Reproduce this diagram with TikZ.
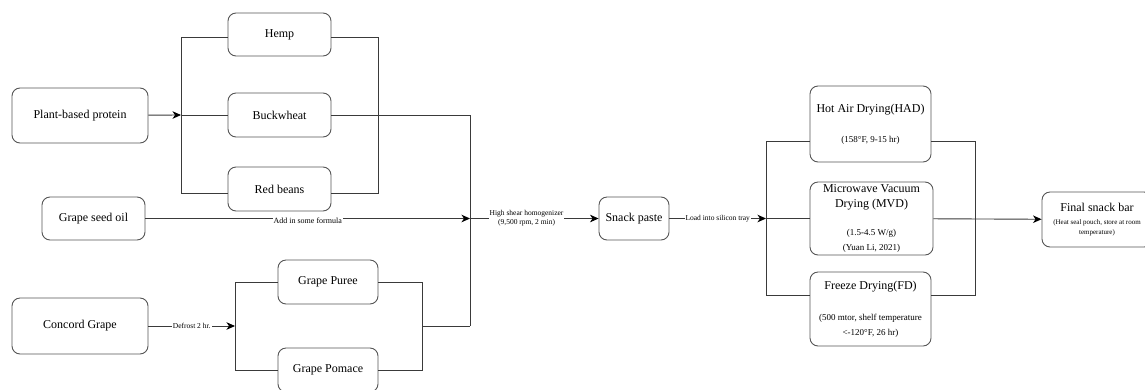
\documentclass[tikz,border=0pt]{standalone}
\usepackage{fontspec}
\setmainfont{Liberation Serif}
\usetikzlibrary{arrows.meta}
\definecolor{boxgray}{HTML}{555555}
\definecolor{linegray}{HTML}{3A3A3A}
\newcommand\subnine{\fontsize{9}{14}\selectfont}
\newcommand\subseven{\fontsize{7}{10}\selectfont}
\begin{document}
\begin{tikzpicture}[x=1pt,y=-1pt,
  box/.style={draw=boxgray, line width=0.9pt, rounded corners=8pt, align=center,
    inner sep=0pt, font=\fontsize{12}{15}\selectfont},
  conn/.style={draw=linegray, line width=0.9pt},
  arr/.style={conn, -{Stealth[length=8.5pt,width=7.5pt,inset=2.5pt,black]}},
  elabel/.style={fill=white, inner sep=1pt, align=center, font=\fontsize{7.5}{9}\selectfont}]
\useasboundingbox (0,0) rectangle (1145,389);

% nodes
\node[box, minimum width=136, minimum height=55] (pbp) at (80,115.5) {Plant-based protein};
\node[box, minimum width=103, minimum height=43] (hemp) at (279.5,34.5) {Hemp};
\node[box, minimum width=103, minimum height=44] (buck) at (279.5,115) {Buckwheat};
\node[box, minimum width=103, minimum height=44] (red) at (279.5,189) {Red beans};
\node[box, minimum width=103, minimum height=43] (gso) at (93.5,218.5) {Grape seed oil};
\node[box, minimum width=136, minimum height=56] (cg) at (80,326) {Concord Grape};
\node[box, minimum width=100, minimum height=44] (puree) at (328,282) {Grape Puree};
\node[box, minimum width=100, minimum height=44] (pomace) at (328,370) {Grape Pomace};
\node[box, minimum width=70, minimum height=43] (snack) at (634,218.5) {Snack paste};
\node[box, minimum width=121, minimum height=76] (had) at (870.5,124)
  {Hot Air Drying(HAD)\\[15pt]\subnine (158°F, 9-15 hr)};
\node[box, minimum width=123, minimum height=73] (mvd) at (871.5,218.5)
  {Microwave Vacuum\\Drying (MVD)\\[13pt]\subnine (1.5-4.5 W/g)\\\subnine (Yuan Li, 2021)};
\node[box, minimum width=121, minimum height=74] (fd) at (870.5,309)
  {Freeze Drying(FD)\\[16pt]\subnine (500 mtor, shelf temperature\\\subnine <-120°F, 26 hr)};
\node[box, minimum width=110, minimum height=55] (fsb) at (1097,219.5)
  {Final snack bar\\[-2pt]\subseven (Heat seal pouch, store at room\\[-5pt]\subseven temperature)};

% junctions
\coordinate (jpb) at (181,115);
\coordinate (jhL) at (181,37);
\coordinate (jrL) at (181,193);
\coordinate (jhR) at (378,37);
\coordinate (jrR) at (378,193);
\coordinate (jb) at (470,115);
\coordinate (jm) at (470,218.5);
\coordinate (jg) at (470,326);
\coordinate (jcg) at (235,326);
\coordinate (jpL) at (235,282);
\coordinate (jpoL) at (235,370);
\coordinate (jpR) at (422,282);
\coordinate (jpoR) at (422,370);
\coordinate (jgR) at (422,326);
\coordinate (jt) at (766,218.5);
\coordinate (jtT) at (766,141);
\coordinate (jtB) at (766,295);
\coordinate (jr) at (975,218.5);
\coordinate (jrT) at (975,141);
\coordinate (jrB) at (975,295);

% protein group
\draw[arr] (pbp) -- (jpb);
\draw[conn] (jhL) -- (jrL);
\draw[conn] (jhL) -- (hemp.west |- jhL);
\draw[conn] (jpb) -- (buck);
\draw[conn] (jrL) -- (red.west |- jrL);
\draw[conn] (hemp.east |- jhR) -- (jhR) -- (jrR) -- (red.east |- jrR);
\draw[conn] (buck) -- (jb) -- (jg);

% oil
\draw[arr] (gso) -- node[elabel, yshift=-2pt, font=\fontsize{8}{9.5}\selectfont]{Add in some formula} (jm);

% grape group
\draw[arr] (cg) -- node[elabel]{Defrost 2 hr.} (jcg);
\draw[conn] (jpL) -- (jpoL);
\draw[conn] (jpL) -- (puree.west |- jpL);
\draw[conn] (jpoL) -- (pomace.west |- jpoL);
\draw[conn] (puree.east |- jpR) -- (jpR) -- (jpoR) -- (pomace.east |- jpoR);
\draw[conn] (jgR) -- (jg);

% main line
\draw[arr] (jm) -- node[elabel, pos=0.44]{High shear homogenizer\\(9,500 rpm, 2 min)} (snack);
\draw[arr] (snack) -- node[elabel]{Load into silicon tray} (jt);

% drying group
\draw[conn] (jtT) -- (jtB);
\draw[conn] (jtT) -- (had.west |- jtT);
\draw[conn] (jt) -- (mvd);
\draw[conn] (jtB) -- (fd.west |- jtB);
\draw[conn] (had.east |- jrT) -- (jrT) -- (jrB) -- (fd.east |- jrB);
\draw[arr] (mvd) -- (fsb);
\end{tikzpicture}
\end{document}
